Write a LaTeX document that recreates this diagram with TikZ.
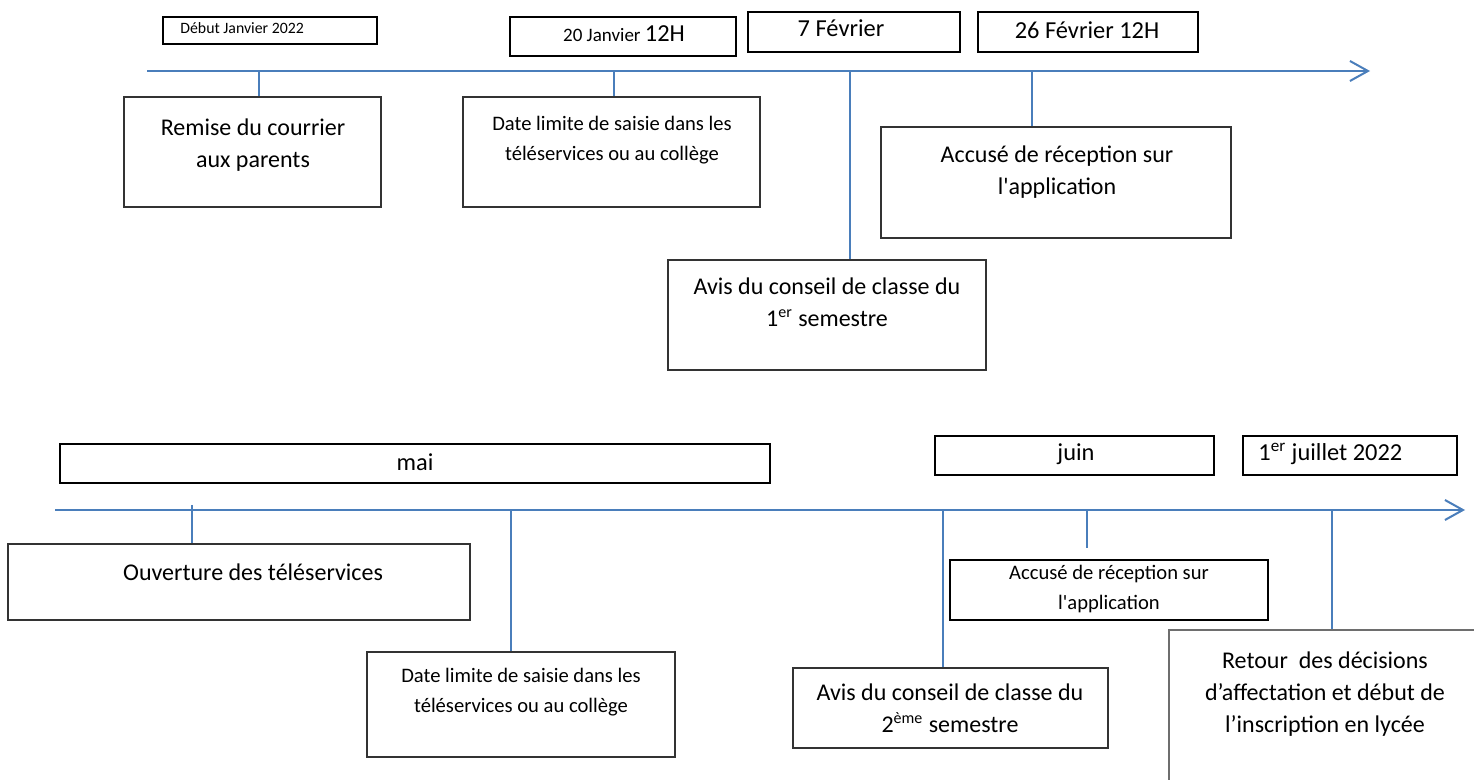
\documentclass[tikz,border=0pt]{standalone}
\usepackage{fontspec}
\setmainfont{Carlito}
\usetikzlibrary{arrows.meta}
\definecolor{tlblue}{HTML}{4A7EBB}
\definecolor{bordergray}{HTML}{333333}
\definecolor{retgray}{HTML}{6E6E6E}
\newcommand\fbig{\fontsize{12}{16}\selectfont}
\newcommand\fmed{\fontsize{10.3}{14.8}\selectfont}
\newcommand\fdate{\fontsize{12.2}{14}\selectfont}
\newcommand\fjan{\fontsize{9.5}{12}\selectfont}
\newcommand\fsmall{\fontsize{7.9}{9}\selectfont}
\tikzset{
 datebox/.style={draw=black, line width=1pt, inner sep=0pt},
 evbox/.style={draw=bordergray, line width=0.6pt, inner sep=0pt},
 retbox/.style={draw=retgray, line width=0.6pt, inner sep=0pt},
 timeline/.style={draw=tlblue, line width=1pt, -{Straight Barb[length=9pt,width=10pt,line width=1pt]}},
 tick/.style={draw=tlblue, line width=0.8pt},
 txt/.style={inner sep=0pt, align=center},
}
\newcommand\bx[6]{\node[#6, minimum width={(#4-#2)*0.5pt}, minimum height={(#5-#3)*0.5pt}] (#1) at ({(#2+#4)/2},{(#3+#5)/2}) {};}
\begin{document}
\begin{tikzpicture}[x=0.5pt,y=-0.5pt]
\useasboundingbox (0,0) rectangle (1474,780);
\clip (0,0) rectangle (1474,780);
\fill[white] (0,0) rectangle (1474,780);

% ---------------- top timeline ----------------
\coordinate (a0) at (147,71);
\coordinate (a1) at (1370,71);
\draw[timeline] (a0) -- (a1);

% date boxes
\bx{dj}{163}{17}{377}{44}{datebox}
\node[txt,font=\fsmall,anchor=west] (tdj) at (180,28) {Début Janvier 2022};
\bx{j20}{510}{17}{736}{56}{datebox}
\node[txt,font=\fjan] (tj20) at (624,34) {20 Janvier {\fdate 12H}};
\bx{f7}{748}{12}{960}{52}{datebox}
\node[txt,font=\fdate] (tf7) at (841,28) {7 Février};
\bx{f26}{978}{12}{1198}{52}{datebox}
\node[txt,font=\fdate] (tf26) at (1087,30) {26 Février 12H};

% events
\bx{rem}{124}{97}{381}{207}{evbox}
\node[txt,font=\fbig] (trem) at (253,145) {Remise du courrier\\aux parents};
\coordinate (k1) at (259,71);
\draw[tick] (k1) -- (k1 |- rem.north);

\bx{dl1}{463}{97}{760}{207}{evbox}
\node[txt,font=\fmed] (tdl1) at (612,140) {Date limite de saisie dans les\\téléservices ou au collège};
\coordinate (k2) at (614,71);
\draw[tick] (k2) -- (k2 |- dl1.north);

\bx{av1}{668}{260}{986}{370}{evbox}
\node[txt,font=\fbig] (tav1) at (827,302) {Avis du conseil de classe du\\1\textsuperscript{er} semestre};
\coordinate (k3) at (850,71);
\draw[tick] (k3) -- (k3 |- av1.north);

\bx{acc1}{881}{127}{1231}{238}{evbox}
\node[txt,font=\fbig] (tacc1) at (1057,172) {Accusé de réception sur\\l\textquotesingle application};
\coordinate (k4) at (1032,71);
\draw[tick] (k4) -- (k4 |- acc1.north);

% ---------------- bottom timeline ----------------
\coordinate (b0) at (55,510);
\coordinate (b1) at (1465,510);
\draw[timeline] (b0) -- (b1);

\bx{mai}{60}{444}{770}{483}{datebox}
\node[txt,font=\fdate] (tmai) at (415,462) {mai};
\bx{juin}{935}{436}{1214}{475}{datebox}
\node[txt,font=\fdate] (tjuin) at (1076,454) {juin};
\bx{jul}{1243}{436}{1457}{475}{datebox}
\node[txt,font=\fdate,anchor=west] (tjul) at (1258,454) {1\textsuperscript{er} juillet 2022};

\bx{ouv}{8}{544}{470}{620}{evbox}
\node[txt,font=\fbig] (touv) at (253,572) {Ouverture des téléservices};
\coordinate (k5) at (192,505);
\draw[tick] (k5) -- (k5 |- ouv.north);

\bx{dl2}{367}{652}{675}{757}{evbox}
\node[txt,font=\fmed] (tdl2) at (521,692) {Date limite de saisie dans les\\téléservices ou au collège};
\coordinate (k6) at (511,510);
\draw[tick] (k6) -- (k6 |- dl2.north);

\bx{av2}{793}{668}{1108}{748}{evbox}
\node[txt,font=\fbig] (tav2) at (950,708) {Avis du conseil de classe du\\2\textsuperscript{ème} semestre};
\coordinate (k7) at (943,510);
\draw[tick] (k7) -- (k7 |- av2.north);

\bx{acc2}{950}{560}{1268}{620}{datebox}
\node[txt,font=\fmed] (tacc2) at (1109,589) {Accusé de réception sur\\l\textquotesingle application};
\coordinate (k8) at (1087,510);
\coordinate (k8e) at (1087,548);
\draw[tick] (k8) -- (k8e);

\bx{ret}{1169}{630}{1500}{810}{retbox}
\node[txt,font=\fbig,text depth=0pt] (tret) at (1325,692) {Retour\ \ des décisions\\d’affectation et début de\\l’inscription en lycée};
\coordinate (k9) at (1332,510);
\draw[tick] (k9) -- (k9 |- ret.north);
\end{tikzpicture}
\end{document}
